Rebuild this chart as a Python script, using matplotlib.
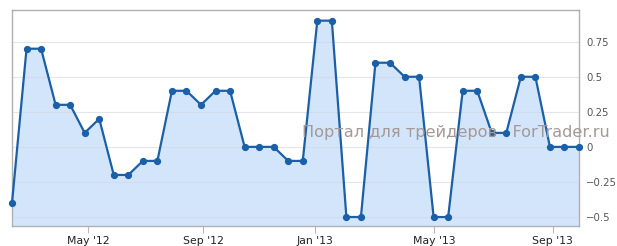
import numpy as np
import matplotlib.pyplot as plt
from matplotlib.ticker import FuncFormatter

# values, one point every ~half month (evenly spaced on the axis)
values = [
    -0.4, 0.7, 0.7, 0.3, 0.3, 0.1, 0.2, -0.2, -0.2, -0.1,
    -0.1, 0.4, 0.4, 0.3, 0.4, 0.4, 0.0, 0.0, 0.0, -0.1,
    -0.1, 0.9, 0.9, -0.5, -0.5, 0.6, 0.6, 0.5, 0.5, -0.5,
    -0.5, 0.4, 0.4, 0.1, 0.1, 0.5, 0.5, 0.0, 0.0, 0.0,
]
x_labels = ["May '12", "Sep '12", "Jan '13", "May '13", "Sep '13"]
# where the month ticks fall between the points (in point index units)
x_ticks = [5.23, 13.15, 20.86, 29.06, 37.18]
y_ticks = [-0.5, -0.25, 0, 0.25, 0.5, 0.75]

idx = np.arange(len(values))
ymin, ymax = -0.564, 0.976

fig = plt.figure(figsize=(6.17, 2.46), dpi=100)
ax = fig.add_axes([12 / 617, 20 / 246, 567 / 617, 216 / 246])

ax.fill_between(idx, values, ymin, color="#d3e5fa", zorder=0.4, linewidth=0)
ax.plot(idx, values, color="#1a5fa8", linewidth=1.6, marker="o",
        markersize=4.2, zorder=3, clip_on=False)

# watermark, centred at (456, 133) px from the top-left corner
fig.text(456 / 617, 1 - 133 / 246, "Портал для трейдеров   ForTrader.ru",
         fontsize=11.6, color="#a49898", ha="center", va="center", zorder=2)

ax.set_xlim(0, len(values) - 1)
ax.set_ylim(ymin, ymax)

ax.set_xticks(x_ticks)
ax.set_xticklabels(x_labels, fontsize=7.8, color="#222222")
ax.tick_params(axis="x", length=5, color="#b8b8b8", pad=2)

ax.yaxis.tick_right()
ax.set_yticks(y_ticks)
ax.yaxis.set_major_formatter(
    FuncFormatter(lambda v, p: ("%g" % v).replace("-", "\u2212")))
ax.tick_params(axis="y", length=0, pad=5, labelsize=7.3, labelcolor="#555555")

ax.grid(True, axis="y", color="#cfd6de", linewidth=0.8, alpha=0.6)
ax.set_axisbelow(True)

for s in ax.spines.values():
    s.set_color("#b0b0b0")
    s.set_linewidth(1)

fig.savefig("out.png", dpi=100)
